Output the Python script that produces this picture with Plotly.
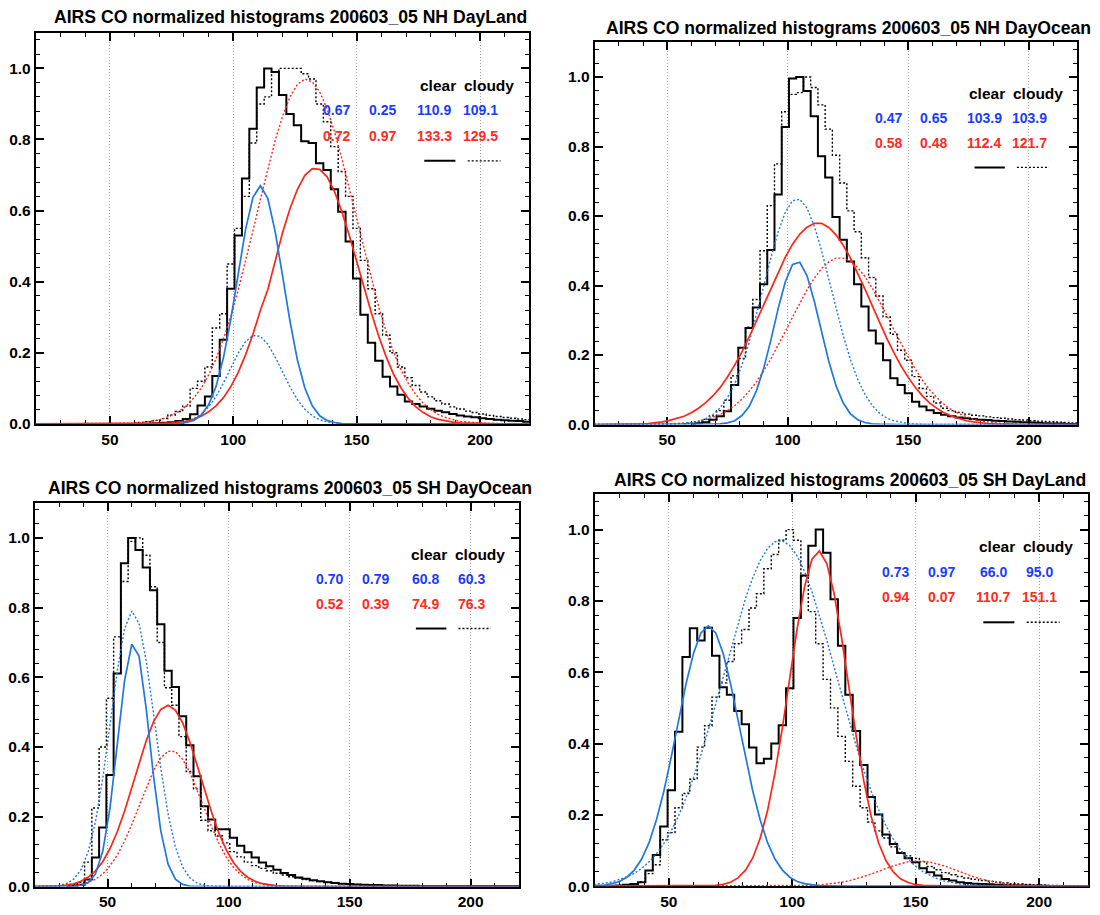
import plotly.graph_objects as go

# ---------------------------------------------------------------- data
TITLE_PREFIX = "AIRS CO normalized histograms 200603_05 "
PANEL_NAMES = ["NH DayLand", "NH DayOcean", "SH DayOcean", "SH DayLand"]

BIN_WIDTH = 3          # histogram bin width (bin centres are multiples of 3)
FIRST_BIN = 18
LAST_BIN = 222

# --- NH DayLand
P1_CLEAR_START = 66
P1_CLEAR = [0.001, 0.002, 0.003, 0.005, 0.008, 0.014, 0.027, 0.052, 0.077, 0.135, 0.237, 0.38, 0.53, 0.69,
            0.83, 0.946, 1.0, 0.99, 0.925, 0.872, 0.84, 0.795, 0.79, 0.733, 0.714, 0.66, 0.597, 0.513, 0.409,
            0.307, 0.228, 0.178, 0.133, 0.105, 0.082, 0.063, 0.056, 0.049, 0.043, 0.037, 0.033, 0.028, 0.024,
            0.021, 0.019, 0.016, 0.014, 0.012, 0.010, 0.009, 0.008, 0.006, 0.006]
P1_CLOUDY_START = 60
P1_CLOUDY = [0.002, 0.004, 0.006, 0.01, 0.015, 0.025, 0.035, 0.05, 0.10, 0.12, 0.16, 0.27, 0.31, 0.45, 0.55,
             0.64, 0.79, 0.90, 0.92, 0.99, 1.0, 1.0, 1.0, 0.985, 0.97, 0.90, 0.85, 0.78, 0.71, 0.64, 0.55, 0.46,
             0.38, 0.31, 0.25, 0.20, 0.16, 0.13, 0.108, 0.09, 0.076, 0.065, 0.056, 0.048, 0.042, 0.036, 0.032,
             0.028, 0.024, 0.021, 0.018, 0.016, 0.014, 0.012, 0.011]
P1_BLUE_CLEAR_START = 78
P1_BLUE_CLEAR = [0.001, 0.004, 0.010, 0.025, 0.054, 0.105, 0.186, 0.295, 0.424, 0.548, 0.638, 0.670, 0.634,
                 0.540, 0.415, 0.288, 0.179, 0.101, 0.051, 0.023, 0.010, 0.004, 0.001]
P1_RED_CLEAR_START = 69
P1_RED_CLEAR = [0.001, 0.002, 0.003, 0.005, 0.008, 0.014, 0.022, 0.034, 0.051, 0.074, 0.105, 0.145, 0.195,
                0.253, 0.320, 0.378, 0.455, 0.539, 0.606, 0.660, 0.699, 0.718, 0.716, 0.695, 0.654, 0.597,
                0.530, 0.457, 0.382, 0.311, 0.245, 0.188, 0.139, 0.101, 0.071, 0.048, 0.032, 0.020, 0.013,
                0.008, 0.005, 0.003, 0.002, 0.001]
P1_BLUE_CLOUDY_START = 75
P1_BLUE_CLOUDY = [0.001, 0.003, 0.007, 0.014, 0.027, 0.048, 0.077, 0.115, 0.157, 0.199, 0.232, 0.249, 0.246,
                  0.224, 0.188, 0.146, 0.104, 0.068, 0.041, 0.023, 0.012, 0.006, 0.003, 0.001]
P1_RED_CLOUDY_START = 54
P1_RED_CLOUDY = [0.001, 0.001, 0.002, 0.004, 0.006, 0.010, 0.016, 0.024, 0.035, 0.051, 0.073, 0.101, 0.138,
                 0.183, 0.239, 0.303, 0.377, 0.458, 0.544, 0.632, 0.719, 0.798, 0.866, 0.920, 0.955, 0.970,
                 0.962, 0.934, 0.886, 0.822, 0.746, 0.662, 0.574, 0.487, 0.403, 0.327, 0.259, 0.201, 0.152,
                 0.113, 0.082, 0.058, 0.040, 0.027, 0.018, 0.012, 0.007, 0.005, 0.003, 0.002, 0.001, 0.001]
P1_BLUE_VALUES = [0.67, 0.25, 110.9, 109.1]
P1_RED_VALUES = [0.72, 0.97, 133.3, 129.5]

# --- NH DayOcean
P2_CLEAR_START = 60
P2_CLEAR = [0.002, 0.004, 0.007, 0.014, 0.024, 0.038, 0.114, 0.221, 0.278, 0.337, 0.404, 0.502, 0.662, 0.856,
            0.996, 1.0, 0.96, 0.887, 0.772, 0.711, 0.597, 0.532, 0.469, 0.404, 0.34, 0.271, 0.233, 0.185, 0.133,
            0.114, 0.090, 0.066, 0.052, 0.041, 0.033, 0.028, 0.024, 0.020, 0.018, 0.016, 0.014, 0.013, 0.011,
            0.010, 0.009, 0.008, 0.007, 0.006, 0.005, 0.004, 0.003, 0.003, 0.002, 0.002, 0.002]
P2_CLOUDY_START = 57
P2_CLOUDY = [0.002, 0.004, 0.008, 0.015, 0.025, 0.04, 0.07, 0.14, 0.19, 0.28, 0.36, 0.50, 0.63, 0.75, 0.90,
             0.95, 0.955, 1.0, 0.97, 0.92, 0.85, 0.775, 0.695, 0.615, 0.555, 0.48, 0.423, 0.37, 0.31, 0.26, 0.214,
             0.185, 0.138, 0.104, 0.081, 0.062, 0.047, 0.040, 0.035, 0.030, 0.027, 0.025, 0.022, 0.020, 0.018,
             0.016, 0.014, 0.013, 0.011, 0.010, 0.009, 0.008, 0.007, 0.006, 0.005, 0.005]
P2_BLUE_CLEAR_START = 69
P2_BLUE_CLEAR = [0.001, 0.002, 0.005, 0.011, 0.026, 0.052, 0.097, 0.161, 0.243, 0.333, 0.411, 0.461, 0.467,
                 0.428, 0.355, 0.267, 0.182, 0.112, 0.062, 0.031, 0.014, 0.006, 0.002, 0.001]
P2_RED_CLEAR_START = 30
P2_RED_CLEAR = [0.001, 0.001, 0.001, 0.002, 0.003, 0.005, 0.008, 0.012, 0.017, 0.024, 0.034, 0.047, 0.063,
                0.083, 0.107, 0.137, 0.171, 0.209, 0.252, 0.298, 0.345, 0.393, 0.439, 0.482, 0.519, 0.548,
                0.568, 0.579, 0.579, 0.567, 0.546, 0.516, 0.479, 0.436, 0.390, 0.342, 0.295, 0.249, 0.207,
                0.168, 0.135, 0.106, 0.081, 0.061, 0.046, 0.033, 0.024, 0.017, 0.011, 0.008, 0.005, 0.003,
                0.002, 0.001, 0.001]
P2_BLUE_CLOUDY_START = 54
P2_BLUE_CLOUDY = [0.001, 0.003, 0.005, 0.009, 0.017, 0.029, 0.048, 0.077, 0.117, 0.171, 0.237, 0.313, 0.397,
                  0.48, 0.554, 0.611, 0.644, 0.648, 0.623, 0.571, 0.501, 0.419, 0.336, 0.256, 0.187, 0.13,
                  0.087, 0.055, 0.033, 0.019, 0.011, 0.006, 0.003, 0.001]
P2_RED_CLOUDY_START = 45
P2_RED_CLOUDY = [0.001, 0.001, 0.002, 0.003, 0.004, 0.006, 0.010, 0.014, 0.021, 0.029, 0.040, 0.055, 0.073,
                 0.096, 0.123, 0.154, 0.189, 0.227, 0.268, 0.309, 0.350, 0.388, 0.421, 0.449, 0.468, 0.479,
                 0.479, 0.470, 0.452, 0.426, 0.393, 0.355, 0.315, 0.273, 0.232, 0.194, 0.158, 0.126, 0.099,
                 0.076, 0.057, 0.042, 0.031, 0.022, 0.015, 0.010, 0.007, 0.004, 0.003, 0.002, 0.001]
P2_BLUE_VALUES = [0.47, 0.65, 103.9, 103.9]
P2_RED_VALUES = [0.58, 0.48, 112.4, 121.7]

# --- SH DayOcean
P3_CLEAR_START = 33
P3_CLEAR = [0.001, 0.002, 0.005, 0.02, 0.083, 0.169, 0.32, 0.611, 0.927, 1.0, 0.965, 0.915, 0.85, 0.752, 0.619,
            0.572, 0.488, 0.405, 0.316, 0.23, 0.192, 0.164, 0.164, 0.14, 0.117, 0.098, 0.083, 0.069, 0.058,
            0.048, 0.039, 0.033, 0.026, 0.022, 0.018, 0.015, 0.012, 0.010, 0.008, 0.007, 0.006, 0.005, 0.004,
            0.004, 0.003, 0.003, 0.002, 0.002, 0.002, 0.001, 0.001, 0.001, 0.001, 0.001, 0.001, 0.001, 0.001,
            0.001, 0.001, 0.001, 0.001, 0.001, 0.001, 0.001]
P3_CLOUDY_START = 33
P3_CLOUDY = [0.003, 0.006, 0.012, 0.07, 0.225, 0.40, 0.54, 0.716, 0.875, 0.99, 1.0, 0.95, 0.86, 0.70, 0.57,
             0.52, 0.43, 0.33, 0.28, 0.19, 0.16, 0.145, 0.125, 0.10, 0.085, 0.07, 0.06, 0.052, 0.045, 0.038,
             0.033, 0.028, 0.024, 0.02, 0.017, 0.014, 0.012, 0.01, 0.008, 0.007, 0.006, 0.005, 0.004, 0.004,
             0.003, 0.003, 0.002, 0.002, 0.002, 0.001, 0.001, 0.001, 0.001, 0.001, 0.001, 0.001, 0.001, 0.001,
             0.001, 0.001, 0.001, 0.001, 0.001, 0.001]
P3_BLUE_CLEAR_START = 39
P3_BLUE_CLEAR = [0.003, 0.011, 0.036, 0.101, 0.225, 0.405, 0.590, 0.695, 0.661, 0.508, 0.316, 0.159, 0.064,
                 0.021, 0.006, 0.001]
P3_RED_CLEAR_START = 27
P3_RED_CLEAR = [0.001, 0.002, 0.004, 0.008, 0.015, 0.027, 0.045, 0.071, 0.109, 0.157, 0.216, 0.283, 0.353,
                0.419, 0.473, 0.508, 0.520, 0.506, 0.470, 0.414, 0.348, 0.278, 0.212, 0.153, 0.106, 0.069,
                0.043, 0.026, 0.015, 0.008, 0.004, 0.002, 0.001]
P3_BLUE_CLOUDY_START = 27
P3_BLUE_CLOUDY = [0.001, 0.003, 0.008, 0.021, 0.048, 0.10, 0.186, 0.31, 0.463, 0.618, 0.739, 0.79, 0.755,
                  0.646, 0.495, 0.339, 0.208, 0.114, 0.056, 0.025, 0.010, 0.003, 0.001]
P3_RED_CLOUDY_START = 33
P3_RED_CLOUDY = [0.002, 0.003, 0.006, 0.012, 0.021, 0.036, 0.059, 0.090, 0.130, 0.178, 0.231, 0.285, 0.333,
                 0.369, 0.388, 0.387, 0.365, 0.327, 0.278, 0.224, 0.171, 0.124, 0.085, 0.055, 0.034, 0.020,
                 0.011, 0.006, 0.003, 0.001]
P3_BLUE_VALUES = [0.70, 0.79, 60.8, 60.3]
P3_RED_VALUES = [0.52, 0.39, 74.9, 76.3]

# --- SH DayLand
P4_CLEAR_START = 27
P4_CLEAR = [0.001, 0.002, 0.004, 0.006, 0.011, 0.044, 0.087, 0.167, 0.269, 0.433, 0.643, 0.723, 0.689, 0.725,
            0.646, 0.558, 0.537, 0.491, 0.454, 0.389, 0.345, 0.357, 0.40, 0.451, 0.555, 0.752, 0.871, 0.955, 1.0,
            0.935, 0.805, 0.674, 0.537, 0.435, 0.34, 0.25, 0.201, 0.145, 0.118, 0.093, 0.078, 0.067, 0.05,
            0.039, 0.03, 0.02, 0.016, 0.011, 0.009, 0.007, 0.006, 0.005, 0.004, 0.003, 0.003, 0.002, 0.002,
            0.001, 0.001, 0.001]
P4_CLOUDY_START = 30
P4_CLOUDY = [0.002, 0.003, 0.006, 0.012, 0.035, 0.06, 0.13, 0.15, 0.22, 0.26, 0.30, 0.39, 0.45, 0.53, 0.57,
             0.63, 0.68, 0.72, 0.78, 0.82, 0.89, 0.93, 0.97, 1.0, 0.97, 0.87, 0.77, 0.68, 0.58, 0.50, 0.42, 0.35,
             0.28, 0.22, 0.18, 0.155, 0.135, 0.11, 0.095, 0.085, 0.078, 0.068, 0.055, 0.046, 0.038, 0.032,
             0.027, 0.023, 0.019, 0.016, 0.013, 0.011, 0.009, 0.007, 0.006, 0.005, 0.004, 0.003, 0.002, 0.002,
             0.001, 0.001, 0.001]
P4_BLUE_CLEAR_START = 18
P4_BLUE_CLEAR = [0.001, 0.001, 0.003, 0.007, 0.013, 0.025, 0.045, 0.076, 0.122, 0.186, 0.267, 0.363, 0.467,
                 0.568, 0.653, 0.710, 0.730, 0.710, 0.653, 0.568, 0.467, 0.363, 0.267, 0.186, 0.122, 0.076,
                 0.045, 0.025, 0.013, 0.007, 0.003, 0.001, 0.001]
P4_RED_CLEAR_START = 66
P4_RED_CLEAR = [0.001, 0.002, 0.005, 0.011, 0.023, 0.044, 0.079, 0.134, 0.212, 0.317, 0.444, 0.585, 0.723,
                0.840, 0.917, 0.940, 0.905, 0.819, 0.696, 0.556, 0.417, 0.294, 0.195, 0.121, 0.071, 0.039,
                0.020, 0.010, 0.004, 0.002, 0.001]
P4_BLUE_CLOUDY_START = 18
P4_BLUE_CLOUDY = [0.004, 0.005, 0.008, 0.012, 0.018, 0.026, 0.036, 0.050, 0.068, 0.091, 0.120, 0.155, 0.198,
                  0.248, 0.305, 0.368, 0.438, 0.512, 0.588, 0.665, 0.738, 0.806, 0.865, 0.913, 0.947, 0.966,
                  0.969, 0.955, 0.926, 0.882, 0.826, 0.761, 0.690, 0.614, 0.537, 0.462, 0.391, 0.325, 0.266,
                  0.214, 0.169, 0.131, 0.100, 0.075, 0.056, 0.040, 0.029, 0.020, 0.014, 0.009, 0.006, 0.004,
                  0.003, 0.002, 0.001]
P4_RED_CLOUDY_START = 105
P4_RED_CLOUDY = [0.001, 0.002, 0.003, 0.005, 0.007, 0.011, 0.015, 0.020, 0.027, 0.034, 0.042, 0.050, 0.057,
                 0.063, 0.068, 0.070, 0.070, 0.067, 0.062, 0.056, 0.048, 0.040, 0.032, 0.025, 0.019, 0.014,
                 0.010, 0.006, 0.004, 0.003, 0.002, 0.001]
P4_BLUE_VALUES = [0.73, 0.97, 66.0, 95.0]
P4_RED_VALUES = [0.94, 0.07, 110.7, 151.1]

X_TICKS = [50, 100, 150, 200]
Y_TICKS = [0.0, 0.2, 0.4, 0.6, 0.8, 1.0]

# ---------------------------------------------------------------- style / layout
FONT = "Liberation Sans, Arial, Helvetica, sans-serif"
HIST_COLOR = "#000000"
BLUE_LINE = "#1f78e0"
RED_LINE = "#ff2418"
BLUE_TEXT = "#1a3cff"
RED_TEXT = "#ff2a22"
DOT = "2px,2px"

DOMAINS = [
    ([0.0326, 0.4813], [0.5326, 0.9638]),
    ([0.5407, 0.9793], [0.5319, 0.9534]),
    ([0.0318, 0.4718], [0.0226, 0.4454]),
    ([0.5407, 0.9895], [0.0230, 0.4554]),
]
TITLE_POS = [(0.2640, 0.9814), (0.7715, 0.9690), (0.2640, 0.4615), (0.7725, 0.4710)]

# annotation layout inside each panel (data coordinates)
COL_X = [141.8, 160.6, 181.4, 200.3]
HEAD_Y, BLUE_Y, RED_Y, KEY_Y = 0.953, 0.882, 0.811, 0.740
CLEAR_X, CLOUDY_X = 182.8, 203.8
KEY_SOLID = (177.4, 190.0)
KEY_DOT = (195.0, 208.3)


def hist_xy(start, vals):
    xs = [start + BIN_WIDTH * i for i in range(len(vals))]
    return xs, vals


def curve_xy(start, vals):
    xs = list(range(FIRST_BIN, LAST_BIN + 1, BIN_WIDTH))
    ys = []
    for x in xs:
        k = (x - start) // BIN_WIDTH
        ys.append(vals[k] if 0 <= k < len(vals) else 0.0)
    return xs, ys


PANELS = [
    dict(clear=(P1_CLEAR_START, P1_CLEAR), cloudy=(P1_CLOUDY_START, P1_CLOUDY),
         bc=(P1_BLUE_CLEAR_START, P1_BLUE_CLEAR), rc=(P1_RED_CLEAR_START, P1_RED_CLEAR),
         bd=(P1_BLUE_CLOUDY_START, P1_BLUE_CLOUDY), rd=(P1_RED_CLOUDY_START, P1_RED_CLOUDY),
         bv=P1_BLUE_VALUES, rv=P1_RED_VALUES),
    dict(clear=(P2_CLEAR_START, P2_CLEAR), cloudy=(P2_CLOUDY_START, P2_CLOUDY),
         bc=(P2_BLUE_CLEAR_START, P2_BLUE_CLEAR), rc=(P2_RED_CLEAR_START, P2_RED_CLEAR),
         bd=(P2_BLUE_CLOUDY_START, P2_BLUE_CLOUDY), rd=(P2_RED_CLOUDY_START, P2_RED_CLOUDY),
         bv=P2_BLUE_VALUES, rv=P2_RED_VALUES),
    dict(clear=(P3_CLEAR_START, P3_CLEAR), cloudy=(P3_CLOUDY_START, P3_CLOUDY),
         bc=(P3_BLUE_CLEAR_START, P3_BLUE_CLEAR), rc=(P3_RED_CLEAR_START, P3_RED_CLEAR),
         bd=(P3_BLUE_CLOUDY_START, P3_BLUE_CLOUDY), rd=(P3_RED_CLOUDY_START, P3_RED_CLOUDY),
         bv=P3_BLUE_VALUES, rv=P3_RED_VALUES),
    dict(clear=(P4_CLEAR_START, P4_CLEAR), cloudy=(P4_CLOUDY_START, P4_CLOUDY),
         bc=(P4_BLUE_CLEAR_START, P4_BLUE_CLEAR), rc=(P4_RED_CLEAR_START, P4_RED_CLEAR),
         bd=(P4_BLUE_CLOUDY_START, P4_BLUE_CLOUDY), rd=(P4_RED_CLOUDY_START, P4_RED_CLOUDY),
         bv=P4_BLUE_VALUES, rv=P4_RED_VALUES),
]

fig = go.Figure()
layout = dict(width=1100, height=915, autosize=False,
              margin=dict(l=0, r=0, t=0, b=0, pad=0),
              paper_bgcolor="white", plot_bgcolor="white",
              showlegend=False, font=dict(family=FONT, color="black"))
annotations = []
shapes = []


def fmt_vals(vals):
    return ["%.2f" % vals[0], "%.2f" % vals[1], "%.1f" % vals[2], "%.1f" % vals[3]]


for i, p in enumerate(PANELS):
    n = i + 1
    xa = "x" if n == 1 else "x%d" % n
    ya = "y" if n == 1 else "y%d" % n
    xkey = "xaxis" if n == 1 else "xaxis%d" % n
    ykey = "yaxis" if n == 1 else "yaxis%d" % n
    xd, yd = DOMAINS[i]

    common = dict(showline=True, linecolor="black", linewidth=2, mirror="allticks",
                  ticks="inside", ticklen=8, tickwidth=1.5, tickcolor="black",
                  layer="below traces", zeroline=False,
                  tickfont=dict(family=FONT, size=15.5, color="black", weight="bold"))
    layout[xkey] = dict(common, domain=xd, anchor=ya, range=[20, 220],
                        tickmode="array", tickvals=X_TICKS, ticktext=[str(v) for v in X_TICKS],
                        showgrid=True, gridcolor="#a0a0a0", gridwidth=1, griddash="1px,2px",
                        minor=dict(ticks="inside", ticklen=4, tickwidth=1.2, tickcolor="black",
                                   dtick=10, tick0=0, showgrid=False))
    layout[ykey] = dict(common, domain=yd, anchor=xa, range=[0, 1.1],
                        tickmode="array", tickvals=Y_TICKS, ticktext=["%.1f" % v for v in Y_TICKS],
                        showgrid=False,
                        minor=dict(ticks="inside", ticklen=4, tickwidth=1.2, tickcolor="black",
                                   dtick=0.04, tick0=0, showgrid=False))

    hx, hy = hist_xy(*p["clear"])
    fig.add_trace(go.Scatter(x=hx, y=hy, mode="lines", line=dict(shape="hvh", color=HIST_COLOR, width=2),
                             xaxis=xa, yaxis=ya, hoverinfo="skip"))
    hx, hy = hist_xy(*p["cloudy"])
    fig.add_trace(go.Scatter(x=hx, y=hy, mode="lines",
                             line=dict(shape="hvh", color=HIST_COLOR, width=1.4, dash=DOT),
                             xaxis=xa, yaxis=ya, hoverinfo="skip"))
    for key, color, dash, w in [("rd", RED_LINE, DOT, 1.4), ("bd", BLUE_LINE, DOT, 1.4),
                                ("rc", RED_LINE, "solid", 1.7), ("bc", BLUE_LINE, "solid", 1.7)]:
        cx, cy = curve_xy(*p[key])
        fig.add_trace(go.Scatter(x=cx, y=cy, mode="lines", line=dict(color=color, width=w, dash=dash),
                                 xaxis=xa, yaxis=ya, hoverinfo="skip"))

    # title
    tx, ty = TITLE_POS[i]
    annotations.append(dict(text="<b>" + TITLE_PREFIX + PANEL_NAMES[i] + "</b>", xref="paper", yref="paper",
                            x=tx, y=ty, xanchor="center", yanchor="middle", showarrow=False,
                            font=dict(family=FONT, size=17.6, color="black")))
    # key texts
    for txt, x in [("clear", CLEAR_X), ("cloudy", CLOUDY_X)]:
        annotations.append(dict(text="<b>%s</b>" % txt, xref=xa, yref=ya, x=x, y=HEAD_Y,
                                xanchor="center", yanchor="middle", showarrow=False,
                                font=dict(family=FONT, size=15.5, color="black")))
    for vals, y, color in [(p["bv"], BLUE_Y, BLUE_TEXT), (p["rv"], RED_Y, RED_TEXT)]:
        for s, x in zip(fmt_vals(vals), COL_X):
            annotations.append(dict(text="<b>%s</b>" % s, xref=xa, yref=ya, x=x, y=y,
                                    xanchor="center", yanchor="middle", showarrow=False,
                                    font=dict(family=FONT, size=14, color=color)))
    shapes.append(dict(type="line", xref=xa, yref=ya, x0=KEY_SOLID[0], x1=KEY_SOLID[1], y0=KEY_Y, y1=KEY_Y,
                       line=dict(color="black", width=2)))
    shapes.append(dict(type="line", xref=xa, yref=ya, x0=KEY_DOT[0], x1=KEY_DOT[1], y0=KEY_Y, y1=KEY_Y,
                       line=dict(color="black", width=1.4, dash=DOT)))

layout["annotations"] = annotations
layout["shapes"] = shapes
fig.update_layout(**layout)
fig.write_html("out.html")
